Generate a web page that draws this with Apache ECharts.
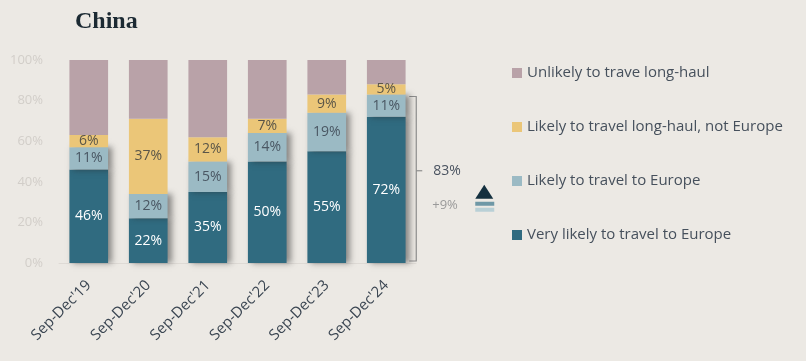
<!DOCTYPE html>
<html><head><meta charset="utf-8">
<script src="https://cdn.jsdelivr.net/npm/echarts@6/dist/echarts.min.js"></script>
<style>html,body{margin:0;padding:0;background:#ece9e4;}#c{width:806px;height:361px;}</style>
</head><body><div id="c"></div>
<script>
const categories = ["Sep-Dec'19","Sep-Dec'20","Sep-Dec'21","Sep-Dec'22","Sep-Dec'23","Sep-Dec'24"];
const veryLikelyEurope = [46,22,35,50,55,72];
const likelyEurope = [11,12,15,14,19,11];
const likelyLongHaulNotEurope = [6,37,12,7,9,5];
const unlikelyLongHaul = [37,29,38,29,17,12];
const yTicks = [0,20,40,60,80,100];
const totalLabel = "83%";
const changeLabel = "+9%";

const names = ["Very likely to travel to Europe","Likely to travel to Europe","Likely to travel long-haul, not Europe","Unlikely to trave long-haul"];
const colors = ["#306b80","#9bbac4","#ebc678","#b9a2a8"];
const font = "'Open Sans', 'Noto Sans', sans-serif";

function mk(i, data, labelColor, shadow){
  return {
    name: names[i], type:'bar', stack:'s', data: data, barWidth: '65%',
    itemStyle: Object.assign({color: colors[i]}, shadow ? {shadowColor:'rgba(40,40,40,0.5)', shadowBlur:6, shadowOffsetX:4, shadowOffsetY:0} : {}),
    label: {show: i<3, position:'inside', formatter: p => p.value + '%', color: labelColor, fontSize: 14, fontFamily: font}
  };
}

const chart = echarts.init(document.getElementById('c'));
const option = {
  backgroundColor: '#ece9e4',
  animation: false,
  title: {text:'China', left: 70, top: 5, textStyle:{fontFamily:"'Liberation Serif', 'DejaVu Serif', serif", fontWeight:'bold', fontSize:24, color:'#1c2a33'}},
  grid: {left: 59, right: 390, top: 60, bottom: 98},
  legend: {
    orient:'vertical', left: 512, top: 63, padding: 0, itemWidth: 10, itemHeight: 10, itemGap: 34, icon:'rect',
    data: [names[3], names[2], names[1], names[0]],
    textStyle:{fontFamily: font, fontSize: 15, lineHeight: 20, color:'#46505c'}
  },
  xAxis: {type:'category', data: categories,
    axisLine:{lineStyle:{color:'#dedad5'}}, axisTick:{show:false},
    axisLabel:{rotate:45, color:'#3b4652', fontSize:15, fontFamily: font, margin: 20}},
  yAxis: {type:'value', min:0, max:100, interval:20,
    axisLabel:{formatter: v => v + '%', color:'#d2cec9', fontSize:13, fontFamily: font, margin: 16},
    splitLine:{show:false}, axisLine:{show:false}, axisTick:{show:false}},
  series: [
    mk(0, veryLikelyEurope, '#ffffff', true),
    mk(1, likelyEurope, '#4a5763', true),
    mk(2, likelyLongHaulNotEurope, '#5a5548', false),
    mk(3, unlikelyLongHaul, '#4a5763', false)
  ]
};
chart.setOption(option);

// bracket annotation on the last bar, positioned through the axes
const lastIdx = categories.length - 1;
const europeTotal = veryLikelyEurope[lastIdx] + likelyEurope[lastIdx];
const pTop = chart.convertToPixel({gridIndex:0}, [lastIdx, europeTotal]);
const pBot = chart.convertToPixel({gridIndex:0}, [lastIdx, 0]);
const bx = pTop[0] + 30;
const midY = (pTop[1] + pBot[1]) / 2 - 8;
const lc = '#8e8e8e';
chart.setOption({graphic: [
  {type:'polyline', shape:{points:[[bx-7,pTop[1]+2],[bx,pTop[1]+2],[bx,pBot[1]-2],[bx-7,pBot[1]-2]]}, style:{stroke:lc, fill:null, lineWidth:1.2}},
  {type:'line', shape:{x1:bx, y1:midY, x2:bx+6, y2:midY}, style:{stroke:lc, lineWidth:1.2}},
  {type:'text', x: bx+17, y: midY, style:{text: totalLabel, fill:'#4a5360', font:"14px 'Open Sans', sans-serif", verticalAlign:'middle'}},
  {type:'text', x: bx+16, y: midY+35, style:{text: changeLabel, fill:'#9a9a9a', font:"13px 'Open Sans', sans-serif", verticalAlign:'middle'}},
  {type:'polygon', shape:{points:[[bx+68,midY+14],[bx+77,midY+28],[bx+59,midY+28]]}, style:{fill:'#14303f'}},
  {type:'rect', shape:{x:bx+59, y:midY+31, width:19, height:4}, style:{fill:'#6f98a6'}},
  {type:'rect', shape:{x:bx+59, y:midY+37, width:19, height:4}, style:{fill:'#b9d0d6'}}
]});
</script></body></html>
